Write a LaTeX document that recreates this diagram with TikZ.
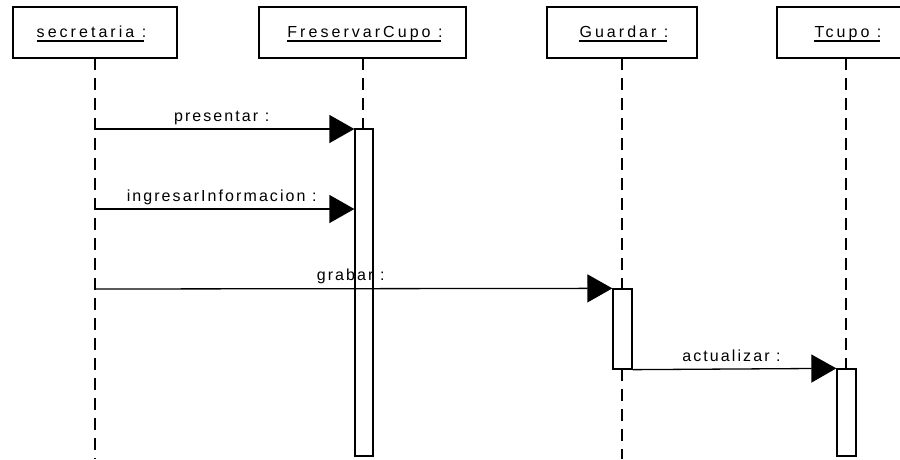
\documentclass[tikz,border=0pt]{standalone}
\usepackage{fontspec}
\setmainfont{Liberation Sans}
\newfontfamily\msgfont[LetterSpace=13]{Liberation Sans}
\newfontfamily\objfont[LetterSpace=19]{Liberation Sans}
\usetikzlibrary{arrows.meta,calc}

\begin{document}
\begin{tikzpicture}[x=1pt,y=-1pt,
  objbox/.style={draw, line width=1.4pt, minimum height=51pt, inner sep=0pt},
  objlabel/.style={font=\objfont\fontsize{16}{18}\selectfont, inner sep=0pt, anchor=base},
  uline/.style={line width=1.4pt},
  lifeline/.style={line width=1.6pt, dash pattern=on 12pt off 8pt},
  actbar/.style={draw, fill=white, line width=1.3pt, inner sep=0pt},
  msg/.style={line width=1.3pt, -{Triangle[length=25pt,width=28pt]}},
  msglabel/.style={font=\msgfont\fontsize{16}{18}\selectfont, inner sep=0pt,
    anchor=base, pos=0.5, yshift=8pt, xshift=-3pt}
]
\useasboundingbox (0,0) rectangle (900,459);

% object heads
\node[objbox, minimum width=164pt] (sec) at (95,32.5) {};
\node[objbox, minimum width=207pt] (fc)  at (362.5,32.5) {};
\node[objbox, minimum width=150pt] (gu)  at (622,32.5) {};
\node[objbox, minimum width=138pt] (tc)  at (846,32.5) {};

\node[objlabel] (secl) at (91.5,37) {secretaria :};
\node[objlabel] (fcl)  at (365,37)  {FreservarCupo :};
\node[objlabel] (gul)  at (624,37)  {Guardar :};
\node[objlabel] (tcl)  at (848,37)  {Tcupo :};
\foreach \t in {secl,fcl,gul,tcl}
  \draw[uline] ($(\t.base west)+(0,4)$) -- ($(\t.base east)+(-2,4)$);

% activation bars
\node[actbar, minimum width=18pt, minimum height=327pt] (fcbar) at (364,292.5) {};
\node[actbar, minimum width=19pt, minimum height=80pt]  (gubar) at (622.5,329) {};
\node[actbar, minimum width=19pt, minimum height=87pt]  (tcbar) at (846.5,412.5) {};

% lifelines
\coordinate (secend) at (95,459);
\coordinate (guend)  at (622,459);
\draw[lifeline] (95,58) -- (secend);
\draw[lifeline] (363,58) -- (363,129);
\draw[lifeline] (622,58) -- (622,289);
\draw[lifeline] (622,369) -- (guend);
\draw[lifeline] (846,58) -- (846,369);

% redraw bars over the dashes
\node[actbar, minimum width=18pt, minimum height=327pt] at (fcbar) {};
\node[actbar, minimum width=19pt, minimum height=80pt]  at (gubar) {};
\node[actbar, minimum width=19pt, minimum height=87pt]  at (tcbar) {};

% messages
\coordinate (m1) at (95,129);
\coordinate (m2) at (95,209);
\coordinate (m3) at (95,289);
\draw[msg] (m1) -- (m1 -| fcbar.west) node[msglabel] {presentar :};
\draw[msg] (m2) -- (m2 -| fcbar.west) node[msglabel] {ingresarInformacion :};
\draw[msg] (m3) -- (gubar.north west) node[msglabel] {grabar :};
\draw[msg] (gubar.south east) -- (tcbar.north west) node[msglabel] {actualizar :};
\end{tikzpicture}
\end{document}
